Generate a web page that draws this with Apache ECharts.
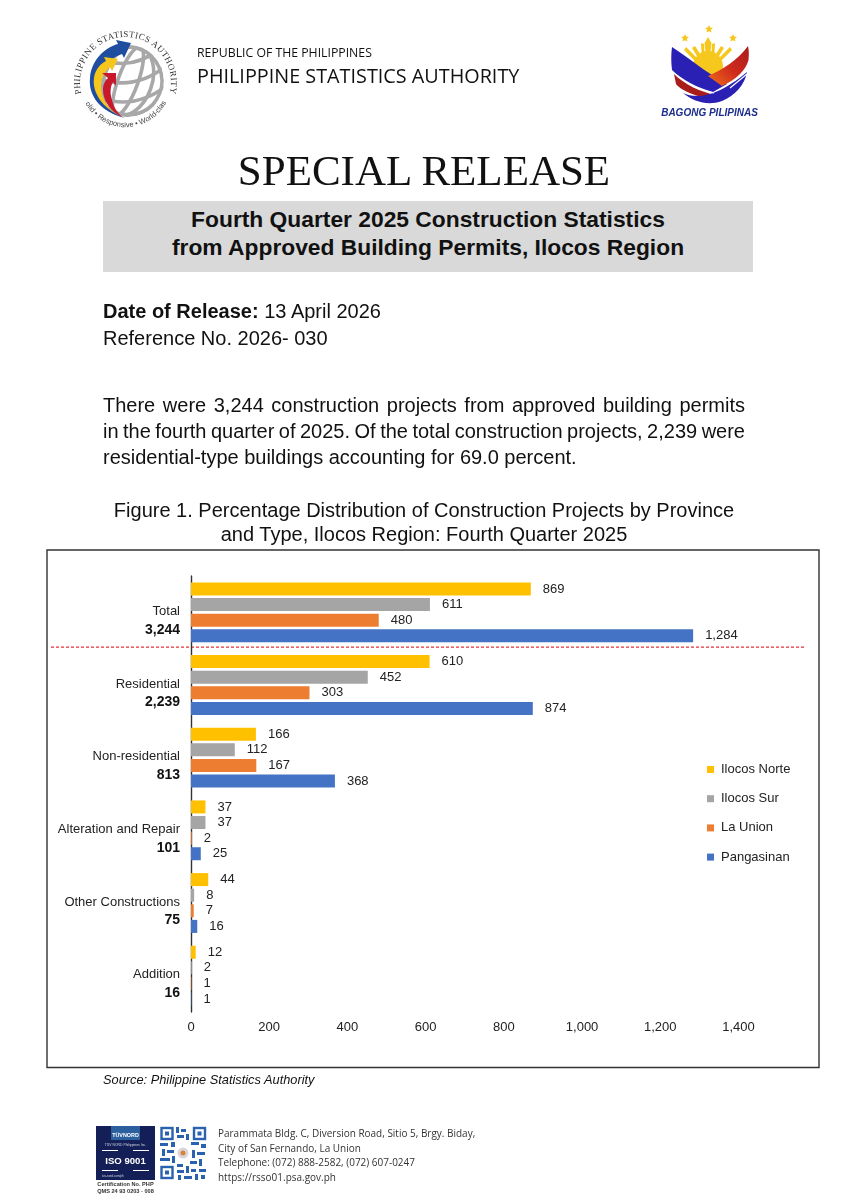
<!DOCTYPE html>
<html><head><meta charset="utf-8">
<script src="https://cdn.jsdelivr.net/npm/echarts@6/dist/echarts.min.js"></script>
<style>
html,body{margin:0;padding:0;background:#fff;width:848px;height:1200px;overflow:hidden}
#page{position:relative;width:848px;height:1200px;font-family:"Liberation Sans",Arial,sans-serif;color:#111}
#chart{position:absolute;left:0;top:0;width:848px;height:1200px}
.t{position:absolute;white-space:nowrap;line-height:1}
.j{position:absolute;left:103px;font-size:20px;line-height:1;white-space:nowrap}
svg{position:absolute;overflow:visible}
</style></head><body>
<div id="page">
<div id="chart"></div>

<svg style="left:0;top:0" width="848" height="140" viewBox="0 0 848 140">
  <defs>
    <path id="ringTop" d="M 81 92 A 45.5 45.5 0 1 1 170 92"/>
    <path id="ringBot" d="M 85 103 A 46 46 0 0 0 166 103"/>
    <clipPath id="globeClip"><circle cx="128" cy="81" r="36"/></clipPath>
    <linearGradient id="redGrad" x1="0" y1="1" x2="1" y2="0"><stop offset="0" stop-color="#f0701a"/><stop offset=".5" stop-color="#cf2a1c"/><stop offset="1" stop-color="#a81c1c"/></linearGradient>
  </defs>
  <g fill="none" stroke="#a8a8a8" stroke-width="3.6" clip-path="url(#globeClip)">
    <ellipse cx="128" cy="81" rx="34" ry="34" transform="rotate(20 128 81)"/>
    <ellipse cx="128" cy="81" rx="24" ry="36" transform="rotate(20 128 81)"/>
    <ellipse cx="128" cy="81" rx="10" ry="36" transform="rotate(20 128 81)"/>
    <path d="M98 58 Q130 72 158 50"/>
    <path d="M96 78 Q134 92 166 66"/>
    <path d="M100 98 Q136 110 166 86"/>
    <path d="M112 112 Q136 120 158 104"/>
  </g>
  <path d="M125 118 C100 112 88 95 90 78 C91 62 103 48 118 44 L116 40 L131 43 L124 58 L122 54 C110 58 100 68 98 80 C97 96 108 112 125 118Z" fill="#1f4ea1"/>
  <path d="M122 117 C102 108 92 92 94 78 C95 70 100 64 106 61 L104 57 L118 59 L112 71 L110 67 C104 72 101 78 101 86 C101 100 110 112 122 117Z" fill="#f7c61a"/>
  <path d="M124 118 C110 112 103 100 103 90 C103 84 105 81 108 78 L102 73 L116 73 L116 86 L113 82 C110 87 110 94 112 100 C114 108 118 114 124 118Z" fill="#c8182c"/>
  <text font-family="Liberation Serif,serif" font-size="9" fill="#333" letter-spacing=".4"><textPath href="#ringTop" startOffset="50%" text-anchor="middle">PHILIPPINE STATISTICS AUTHORITY</textPath></text>
  <text font-family="Liberation Sans,sans-serif" font-size="7.4" fill="#444"><textPath href="#ringBot" startOffset="50%" text-anchor="middle">Solid • Responsive • World-class</textPath></text>

  <g fill="#f6c81e">
    <path d="M709 25l1.2 2.6 2.8.3-2.1 1.9.6 2.8-2.5-1.4-2.5 1.4.6-2.8-2.1-1.9 2.8-.3z"/>
    <path d="M685 34l1.2 2.6 2.8.3-2.1 1.9.6 2.8-2.5-1.4-2.5 1.4.6-2.8-2.1-1.9 2.8-.3z"/>
    <path d="M733 34l1.2 2.6 2.8.3-2.1 1.9.6 2.8-2.5-1.4-2.5 1.4.6-2.8-2.1-1.9 2.8-.3z"/>
    <path d="M708 37l3.5 6-2 18h-3l-2-18z"/>
    <path d="M701 43l3 1 1 18-3 1z"/><path d="M715 43l-3 1-1 18 3 1z"/>
    <path d="M692 48l3-2 11 17-3 3z"/><path d="M724 48l-3-2-11 17 3 3z"/>
    <path d="M684 50l2-3 18 18-2 3z"/><path d="M732 50l-2-3-18 18 2 3z"/>
    <circle cx="708" cy="66" r="15"/>
  </g>
  <path d="M672 47 C685 55 705 72 727 84 L713 92 C698 88 682 80 672 70 C671 62 671 54 672 47Z" fill="#2a20b4"/>
  <path d="M748 46 C738 60 722 70 708 76 L722 86 C736 80 746 70 748.5 60 C749 55 749 50 748 46Z" fill="url(#redGrad)"/>
  <path d="M674 74 C684 84 700 92 716 95 L732 88 L722 99 C704 100 682 92 676 84Z" fill="#a81c1c"/>
  <path d="M683 93 C696 99 716 98 747 72 C745 84 735 96 722 101 C708 106 694 102 683 93Z" fill="#2a20b4"/>
  <path d="M730 88 L747 74" stroke="#fff" stroke-width="1.2" fill="none"/>
  <path d="M673 72 C684 83 700 90 714 93" stroke="#fff" stroke-width="1" fill="none"/>
  <text x="709.5" y="116" font-family="Liberation Sans,sans-serif" font-size="10" font-weight="700" font-style="italic" fill="#1c2d8c" text-anchor="middle">BAGONG PILIPINAS</text>
</svg>

<div class="t" style="left:197px;top:44px;font:12.4px 'Open Sans',sans-serif;transform-origin:left;transform:scaleX(.99)">REPUBLIC OF THE PHILIPPINES</div>
<div class="t" style="left:197px;top:62px;font:20px 'Open Sans',sans-serif;transform-origin:left;transform:scaleX(.99)">PHILIPPINE STATISTICS AUTHORITY</div>

<div class="t" style="left:0;width:848px;text-align:center;top:146px;font:43px 'Liberation Serif',serif">SPECIAL RELEASE</div>
<div style="position:absolute;left:103px;top:201px;width:650px;height:71px;background:#d9d9d9"></div>
<div class="t" style="left:103px;width:650px;text-align:center;top:206px;font:bold 22.8px/27.5px 'Liberation Sans',sans-serif">Fourth Quarter 2025 Construction Statistics<br>from Approved Building Permits, Ilocos Region</div>
<div class="t" style="left:103px;top:301px;font-size:20px"><b>Date of Release:</b> 13 April 2026</div>
<div class="t" style="left:103px;top:328px;font-size:20px">Reference No. 2026- 030</div>
<div class="j" style="top:395px">There were 3,244 construction projects from approved building permits</div>
<div class="j" style="top:421px">in the fourth quarter of 2025. Of the total construction projects, 2,239 were</div>
<div class="t" style="left:103px;top:447px;font-size:20px">residential-type buildings accounting for 69.0 percent.</div>
<div class="t" style="left:0;width:848px;text-align:center;top:498px;font-size:20px;line-height:24px">Figure 1. Percentage Distribution of Construction Projects by Province<br>and Type, Ilocos Region: Fourth Quarter 2025</div>
<div class="t" style="left:103px;top:1074px;font-size:12.8px;font-style:italic">Source: Philippine Statistics Authority</div>

<svg style="left:0;top:1115px" width="848" height="85" viewBox="0 1115 848 85">
  <rect x="96" y="1126" width="59" height="54" fill="#131f56"/>
  <rect x="111" y="1126" width="29" height="14" fill="#2b5f9e"/>
  <text x="125.5" y="1137" font-family="Liberation Sans" font-size="5.4" font-weight="700" fill="#fff" text-anchor="middle">TÜVNORD</text>
  <text x="125.5" y="1146" font-family="Liberation Sans" font-size="3.4" fill="#cfd5e6" text-anchor="middle">TÜV NORD Philippines Inc.</text>
  <rect x="102" y="1150" width="16" height="1" fill="#fff"/><rect x="133" y="1150" width="16" height="1" fill="#fff"/>
  <text x="125.5" y="1164" font-family="Liberation Sans" font-size="9.6" font-weight="700" fill="#fff" text-anchor="middle">ISO 9001</text>
  <rect x="102" y="1170" width="16" height="1" fill="#fff"/><rect x="133" y="1170" width="16" height="1" fill="#fff"/>
  <text x="102" y="1177" font-family="Liberation Sans" font-size="3" fill="#cfd5e6">tuv-nord.com/ph</text>
  <text x="125.5" y="1186" font-family="Liberation Sans" font-size="5.6" font-weight="700" fill="#333" text-anchor="middle">Certification No. PHP</text>
  <text x="125.5" y="1193" font-family="Liberation Sans" font-size="5.6" font-weight="700" fill="#333" text-anchor="middle">QMS 24 93 0203 - 008</text>

  <g fill="none" stroke="#2b62b0" stroke-width="2.4">
    <rect x="161.5" y="1128" width="11" height="11"/>
    <rect x="161.5" y="1167" width="11" height="11"/>
    <rect x="194" y="1128" width="11" height="11"/>
  </g>
  <g fill="#2b62b0">
    <rect x="165" y="1131.5" width="4" height="4"/><rect x="165" y="1170.5" width="4" height="4"/><rect x="197.5" y="1131.5" width="4" height="4"/>
    <rect x="176" y="1127" width="3" height="6"/><rect x="181" y="1129" width="5" height="3"/><rect x="177" y="1135" width="7" height="3"/><rect x="186" y="1134" width="3" height="6"/>
    <rect x="160" y="1143" width="8" height="3"/><rect x="171" y="1142" width="4" height="5"/><rect x="162" y="1149" width="3" height="7"/><rect x="167" y="1150" width="7" height="3"/>
    <rect x="160" y="1158" width="10" height="3"/><rect x="172" y="1156" width="3" height="7"/><rect x="191" y="1142" width="8" height="3"/><rect x="201" y="1144" width="5" height="4"/>
    <rect x="192" y="1150" width="3" height="8"/><rect x="197" y="1152" width="8" height="3"/><rect x="199" y="1159" width="3" height="7"/><rect x="190" y="1161" width="7" height="3"/>
    <rect x="177" y="1164" width="6" height="3"/><rect x="186" y="1166" width="3" height="7"/><rect x="177" y="1170" width="7" height="3"/><rect x="191" y="1169" width="5" height="3"/>
    <rect x="199" y="1169" width="7" height="3"/><rect x="178" y="1175" width="3" height="5"/><rect x="184" y="1176" width="8" height="3"/><rect x="195" y="1174" width="3" height="6"/><rect x="201" y="1175" width="4" height="4"/>
  </g>
  <circle cx="183" cy="1153" r="5.5" fill="#d9d6dc"/><circle cx="183" cy="1153" r="2.5" fill="#d8843c"/>
</svg>
<div class="t" style="left:218px;top:1126px;font:10.4px/14.5px 'Open Sans',sans-serif;color:#333;transform-origin:left top;transform:scaleX(.96)">Parammata Bldg. C, Diversion Road, Sitio 5, Brgy. Biday,<br>City of San Fernando, La Union<br>Telephone: (072) 888-2582, (072) 607-0247<br>https://rsso01.psa.gov.ph</div>
</div>

<script>
document.querySelectorAll('.j').forEach(el=>{
  const gaps = el.textContent.trim().split(/\s+/).length-1;
  el.style.wordSpacing = ((642-el.getBoundingClientRect().width)/gaps)+'px';
});
const categories = ['Total','Residential','Non-residential','Alteration and Repair','Other Constructions','Addition'];
const categoryTotals = ['3,244','2,239','813','101','75','16'];
const ilocosNorte = [869,610,166,37,44,12];
const ilocosSur = [611,452,112,37,8,2];
const laUnion = [480,303,167,2,7,1];
const pangasinan = [1284,874,368,25,16,1];
const seriesNames = ['Ilocos Norte','Ilocos Sur','La Union','Pangasinan'];
const seriesColors = ['#FFC000','#A5A5A5','#ED7D31','#4472C4'];
const xTicks = [0,200,400,600,800,1000,1200,1400];

const chart = echarts.init(document.getElementById('chart'), null, {renderer:'canvas'});
const font = '"Liberation Sans",Arial,sans-serif';
const mkSeries = (name,data,i)=>({
  name, type:'bar', data, barWidth:13, barGap:'20%',
  itemStyle:{color:seriesColors[i]},
  label:{show:true, position:'right', distance:12, color:'#222', fontFamily:font, fontSize:13,
    formatter:p=>p.value.toLocaleString('en-US')},
  silent:true, animation:false
});
chart.setOption({
  animation:false,
  backgroundColor:'transparent',
  grid:{left:191, top:576, width:547.5, height:436, containLabel:false},
  legend:{orient:'vertical', left:702, top:758, itemWidth:7, itemHeight:7, itemGap:16.2, icon:'rect',
    data:seriesNames, textStyle:{color:'#222', fontFamily:font, fontSize:13, padding:[0,0,0,2]}, selectedMode:false},
  xAxis:{type:'value', min:xTicks[0], max:xTicks[xTicks.length-1], interval:xTicks[1]-xTicks[0], splitLine:{show:false},
    axisLine:{show:false}, axisTick:{show:false},
    axisLabel:{margin:9, color:'#222', fontFamily:font, fontSize:13, formatter:v=>v.toLocaleString('en-US')}},
  yAxis:{type:'category', inverse:true, data:categories.map((c,i)=>c+'\n'+categoryTotals[i]),
    axisLine:{show:true, lineStyle:{color:'#333', width:1.4}}, axisTick:{show:false},
    axisLabel:{margin:11, align:'right', fontFamily:font, color:'#222', interval:0, padding:[18,0,0,0],
      formatter:v=>{const [a,b]=v.split('\n');return '{n|'+a+'}\n{b|'+b+'}';},
      rich:{n:{fontFamily:font, fontSize:13, color:'#222', lineHeight:17, align:'right'},
            b:{fontFamily:font, fontSize:14, fontWeight:'bold', color:'#111', lineHeight:20, align:'right'}}}},
  series:[mkSeries(seriesNames[0],ilocosNorte,0),mkSeries(seriesNames[1],ilocosSur,1),mkSeries(seriesNames[2],laUnion,2),mkSeries(seriesNames[3],pangasinan,3)]
});
const sepY = (chart.convertToPixel({yAxisIndex:0},0)+chart.convertToPixel({yAxisIndex:0},1))/2;
chart.setOption({graphic:[
  {type:'rect', silent:true, shape:{x:47,y:550,width:772,height:517.5}, style:{fill:'none',stroke:'#333',lineWidth:1.4}},
  {type:'line', silent:true, shape:{x1:51,y1:sepY-1.5,x2:805,y2:sepY-1.5}, style:{stroke:'#e5303a',lineWidth:1.2,lineDash:[3,2]}}
]});
</script>
</body></html>
